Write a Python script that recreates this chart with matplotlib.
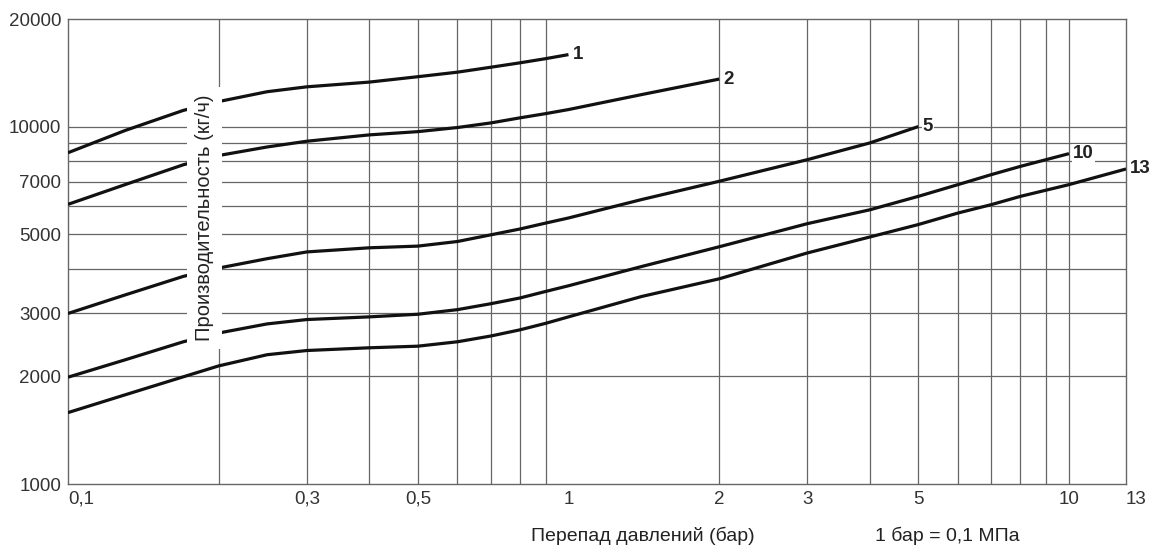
import numpy as np
import matplotlib.pyplot as plt

# Pressure drop (bar) and capacity (kg/h)
x_1 = [0.1, 0.13, 0.17, 0.2, 0.25, 0.3, 0.4, 0.5, 0.6, 0.7, 0.8, 0.9, 1.0]
y_1 = [8450, 9750, 11100, 11750, 12520, 12920, 13320, 13790, 14200, 14660, 15080, 15490, 15900]

x_2 = [0.1, 0.13, 0.17, 0.2, 0.25, 0.3, 0.4, 0.5, 0.6, 0.7, 0.8, 0.9, 1.0, 1.4, 2.0]
y_2 = [6060, 6880, 7820, 8300, 8770, 9100, 9480, 9680, 9940, 10240, 10580, 10870, 11160, 12290, 13580]

x_5 = [0.1, 0.13, 0.17, 0.2, 0.25, 0.3, 0.4, 0.5, 0.6, 0.7, 0.8, 0.9, 1.0, 1.4, 2.0, 3.0, 4.0, 5.0]
y_5 = [3000, 3380, 3810, 4020, 4270, 4460, 4580, 4630, 4770, 4980, 5170, 5370, 5550, 6250, 7030, 8080, 9000, 10000]

x_10 = [0.1, 0.13, 0.17, 0.2, 0.25, 0.3, 0.4, 0.5, 0.6, 0.7, 0.8, 0.9, 1.0, 1.4, 2.0,
        3.0, 4.0, 5.0, 6.0, 7.0, 8.0, 10.0]
y_10 = [1990, 2225, 2500, 2645, 2805, 2885, 2935, 2985, 3075, 3195, 3315, 3457, 3586, 4060, 4610,
        5350, 5850, 6380, 6880, 7340, 7740, 8400]

x_13 = [0.1, 0.13, 0.17, 0.2, 0.25, 0.3, 0.4, 0.5, 0.6, 0.7, 0.8, 0.9, 1.0, 1.4, 2.0,
        3.0, 4.0, 5.0, 6.0, 7.0, 8.0, 10.0, 13.0]
y_13 = [1584, 1776, 1995, 2140, 2300, 2363, 2405, 2430, 2500, 2595, 2700, 2815, 2935, 3347, 3750,
        4430, 4910, 5320, 5730, 6050, 6380, 6880, 7610]

curves = [("1", x_1, y_1), ("2", x_2, y_2), ("5", x_5, y_5), ("10", x_10, y_10), ("13", x_13, y_13)]

x_grid = [0.2, 0.3, 0.4, 0.5, 0.6, 0.7, 0.8, 0.9, 2, 3, 4, 5, 6, 7, 8, 9, 10]
y_grid = [2000, 3000, 4000, 5000, 6000, 7000, 8000, 9000, 10000]
x_ticks = [0.1, 0.3, 0.5, 1, 2, 3, 5, 10, 13]
x_ticklabels = ["0,1", "0,3", "0,5", "1", "2", "3", "5", "10", "13"]
y_ticks = [1000, 2000, 3000, 5000, 7000, 10000, 20000]

plt.rcParams['font.family'] = ['Liberation Sans', 'DejaVu Sans']

fig = plt.figure(figsize=(11.56, 5.47), dpi=100)
ax = fig.add_axes([68 / 1156, 1 - 484 / 547, 1058 / 1156, 465 / 547])
ax.set_xscale('log')
ax.set_yscale('log')
ax.set_xlim(0.1, 13)
ax.set_ylim(1000, 20000)

grid_color = '#666666'
for gx in x_grid:
    ax.axvline(gx, color=grid_color, lw=0.9, zorder=1)
for gy in y_grid:
    ax.axhline(gy, color=grid_color, lw=0.9, zorder=1)

for name, xs, ys in curves:
    ax.plot(xs, ys, color='#111111', lw=2.3, solid_capstyle='butt',
            solid_joinstyle='round', zorder=3)
    ax.annotate(name, (xs[-1], ys[-1]), xytext=(3, 0), textcoords='offset points',
                ha='left', va='center', fontsize=13.5, fontweight='bold', color='#222222',
                annotation_clip=False, zorder=5,
                bbox=dict(boxstyle='square,pad=0.05', fc='white', ec='none'))

ax.set_xticks(x_ticks)
ax.set_xticklabels(x_ticklabels)
ax.set_yticks(y_ticks)
ax.set_yticklabels([str(v) for v in y_ticks])
ax.minorticks_off()
ax.tick_params(length=0, pad=5, labelsize=13.5, colors='#333333')
xlabels = ax.get_xticklabels()
xlabels[0].set_ha('left')
xlabels[-1].set_ha('left')

for s in ax.spines.values():
    s.set_color(grid_color)
    s.set_linewidth(1.0)

# y label sits inside the plot on a white patch
ax.text(0.129, 0.572, "Производительность (кг/ч)", transform=ax.transAxes,
        rotation=90, ha='center', va='center', fontsize=14.5,
        color='#222222', zorder=6,
        bbox=dict(boxstyle='square,pad=0.4', fc='white', ec='none'))

fig.text(643 / 1156, 1 - 536 / 547, "Перепад давлений (бар)", ha='center', va='center',
         fontsize=14, color='#222222')
fig.text(947 / 1156, 1 - 536 / 547, "1 бар = 0,1 МПа", ha='center', va='center',
         fontsize=14, color='#222222')

fig.savefig('out.png', dpi=100, facecolor='white')
